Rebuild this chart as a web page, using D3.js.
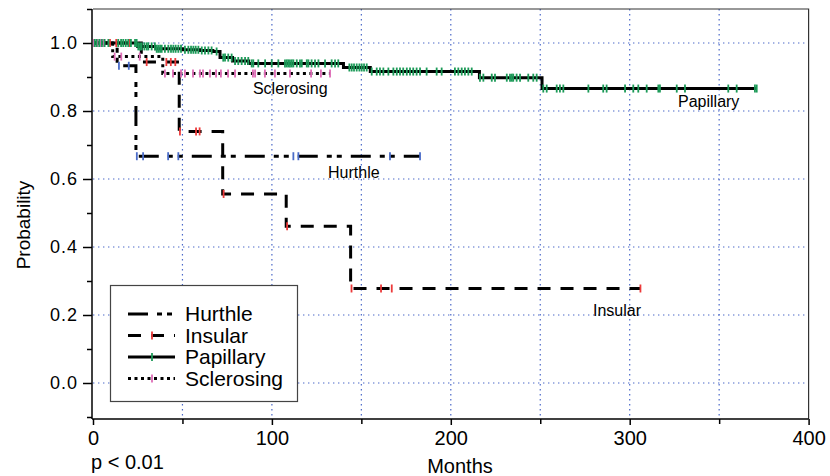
<!DOCTYPE html>
<meta charset="utf-8">
<style>
body {
  margin: 0;
  background: #fff;
  font-family: "Liberation Sans", Arial, sans-serif;
}

.grid line {
  stroke: #4a68c8;
  stroke-width: 1.2px;
  stroke-dasharray: 1.4,3.6;
}

.axis path, .axis line {
  stroke: #000;
  stroke-width: 1.5px;
}

.axis text {
  fill: #000;
}

.curve {
  fill: none;
  stroke: #000;
  stroke-width: 3px;
}

.hurthle { stroke-dasharray: 20,9,5,5,5,9; }
.insular { stroke-dasharray: 13,10; }
.sclerosing { stroke-dasharray: 3,3.5; }

.censor {
  stroke-width: 1.8px;
}

.label {
  font-size: 16px;
}
</style>
<body>
<script src="https://d3js.org/d3.v7.min.js"></script>
<script>

var width = 830,
    height = 476;

// Kaplan-Meier steps (months, survival) and censored times
var hurthleTimes = [0, 13.5, 24],
    hurthleSurv = [1, 0.933, 0.667],
    hurthleCensor = [14.5, 20, 24.5, 28, 42, 47.7, 112, 114.8, 166, 182.8];

var insularTimes = [0, 27, 48.2, 72.5, 108, 144],
    insularSurv = [1, 0.944, 0.74, 0.556, 0.461, 0.278],
    insularCensor = [9.5, 13, 20.5, 30, 41, 43.5, 46, 48.6, 57.6, 59.6, 73, 108.5, 144.5, 161, 167, 306];

var papillaryTimes = [0, 25, 35, 50, 60, 67, 71, 78, 87, 140, 155, 216, 251],
    papillarySurv = [1, 0.99, 0.983, 0.98, 0.978, 0.975, 0.957, 0.947, 0.94, 0.928, 0.916, 0.898, 0.866],
    papillaryCensor = [1, 2, 3.5, 5, 6.5, 8.6, 14.1, 15.7, 16.9, 18.3, 19.7, 21.2, 23.5, 24.4, 25.3, 26.3,
      27.2, 28.7, 30.0, 30.9, 32.8, 34.6, 35.6, 36.5, 37.5, 38.4, 40.2, 42.1, 43.6, 44.9, 46.2, 47.7,
      49.2, 51.4, 53.3, 54.8, 56.1, 57.4, 58.9, 60.8, 62.6, 64.5, 66.3, 69.1, 72.8, 73.8, 75.6, 77.5,
      79.4, 81.2, 83.1, 85.0, 86.8, 88.7, 89.6, 92.4, 96.2, 99.9, 103.6, 107.3, 108.3, 109.2, 110.1,
      111.1, 112.0, 113.9, 115.7, 116.7, 119.5, 120.4, 122.2, 124.1, 126.0, 129.7, 133.4, 135.3, 137.1,
      143.3, 144.6, 145.9, 147.4, 148.9, 150.2, 151.5, 153.0, 155.8, 158.6, 160.4, 162.3, 165.1, 167.9,
      169.8, 171.6, 173.4, 175.4, 177.2, 179.0, 180.9, 182.8, 186.5, 192.1, 194.9, 202.3, 204.2, 206.1,
      207.9, 209.8, 211.7, 216.3, 218.2, 222.9, 224.7, 231.3, 233.1, 234.1, 234.9, 236.8, 238.7, 243.3,
      246.1, 248.0, 251.7, 253.6, 259.2, 261.0, 262.9, 276.9, 285.2, 287.1, 297.4, 302.0, 304.8, 309.5,
      316.0, 316.9, 326.3, 330.9, 355.1, 359.8, 370.0, 371];

var sclerosingTimes = [0, 11, 39],
    sclerosingSurv = [1, 0.96, 0.91],
    sclerosingCensor = [0.5, 2.5, 4, 6, 12.1, 15.8, 26.1, 40.2, 44.7, 49.2, 51.4, 55.9, 59.8, 61.5, 65.4,
      68.8, 71.5, 75.5, 79.4, 89.4, 90.6, 96.1, 101.7, 110.1, 121.9, 127.4, 132.5];

var xMajor = [0, 100, 200, 300, 400],
    xMinor = [50, 150, 250, 350],
    yMajor = [0, 0.2, 0.4, 0.6, 0.8, 1.0],
    yMinor = [-0.1, 0.1, 0.3, 0.5, 0.7, 0.9, 1.1];

var series = [
  {name: "Sclerosing", cls: "sclerosing", color: "#de6cb6", times: sclerosingTimes, surv: sclerosingSurv, censor: sclerosingCensor, label: [89.4, 0.85]},
  {name: "Hurthle", cls: "hurthle", color: "#4a6cc8", times: hurthleTimes, surv: hurthleSurv, censor: hurthleCensor, label: [131.4, 0.603]},
  {name: "Insular", cls: "insular", color: "#ec3a3a", times: insularTimes, surv: insularSurv, censor: insularCensor, label: [279.5, 0.197]},
  {name: "Papillary", cls: "papillary", color: "#1c9a58", times: papillaryTimes, surv: papillarySurv, censor: papillaryCensor, label: [327, 0.812]}
];
var legendOrder = ["Hurthle", "Insular", "Papillary", "Sclerosing"];

var x = d3.scaleLinear().domain([0, 400]).range([93, 808.6]),
    y = d3.scaleLinear().domain([-0.1, 1.1]).range([417, 9]);

var svg = d3.select("body").append("svg")
    .attr("width", width)
    .attr("height", height);

// grid
var grid = svg.append("g").attr("class", "grid");
grid.selectAll(".gx")
    .data(d3.range(50, 400, 50))
  .enter().append("line")
    .attr("x1", x).attr("x2", x)
    .attr("y1", y(1.1)).attr("y2", 419);
grid.selectAll(".gy")
    .data(yMajor)
  .enter().append("line")
    .attr("x1", x(0)).attr("x2", x(400))
    .attr("y1", y).attr("y2", y);

// frame top/right
svg.append("path")
    .attr("d", "M" + x(0) + "," + y(1.1) + "H" + x(400) + "V419")
    .attr("fill", "none")
    .attr("stroke", "#333")
    .attr("stroke-width", 1.2);

// axes
svg.append("g")
    .attr("class", "axis")
    .attr("transform", "translate(0,419)")
    .call(d3.axisBottom(x).tickValues(xMajor).tickSize(6).tickSizeOuter(0).tickPadding(6))
    .call(function(g) {
      g.selectAll("text").attr("font-size", 20).attr("font-family", "Liberation Sans, Arial, sans-serif");
      g.select(".domain").attr("d", "M" + (x(0) - 1) + ",0H" + x(400));
    });
svg.append("g")
    .attr("class", "axis")
    .attr("transform", "translate(0,419)")
    .call(d3.axisBottom(x).tickValues(xMinor).tickSize(5).tickFormat(""))
    .call(function(g) { g.select(".domain").remove(); });

svg.append("g")
    .attr("class", "axis")
    .attr("transform", "translate(" + (x(0) - 1) + ",0)")
    .call(d3.axisLeft(y).tickValues(yMajor).tickSize(9).tickSizeOuter(0).tickPadding(5).tickFormat(d3.format(".1f")))
    .call(function(g) {
      g.selectAll("text")
          .attr("font-size", 18)
          .attr("letter-spacing", 1)
          .attr("font-family", "Liberation Sans, Arial, sans-serif");
      g.select(".domain").attr("d", "M0," + y(1.1) + "V419");
    });
svg.append("g")
    .attr("class", "axis")
    .attr("transform", "translate(" + (x(0) - 1) + ",0)")
    .call(d3.axisLeft(y).tickValues(yMinor).tickSize(5).tickFormat(""))
    .call(function(g) { g.select(".domain").remove(); });

// axis titles
svg.append("text")
    .attr("transform", "translate(30,225)rotate(-90)")
    .attr("text-anchor", "middle")
    .attr("font-size", 19)
    .text("Probability");
svg.append("text")
    .attr("x", 460).attr("y", 473)
    .attr("text-anchor", "middle")
    .attr("font-size", 20)
    .text("Months");
svg.append("text")
    .attr("x", 91).attr("y", 469)
    .attr("font-size", 20)
    .text("p < 0.01");

// curves
function survAt(d, t) {
  var i = d3.bisectRight(d.times, t) - 1;
  return d.surv[Math.max(i, 0)];
}

var line = d3.line()
    .x(function(p) { return x(p[0]); })
    .y(function(p) { return y(p[1]); })
    .curve(d3.curveStepAfter);

series.forEach(function(d) {
  var pts = d.times.map(function(t, i) { return [t, d.surv[i]]; });
  pts.push([d3.max(d.censor), d.surv[d.surv.length - 1]]);
  svg.append("path")
      .attr("class", "curve " + d.cls)
      .attr("d", line(pts));
});

series.forEach(function(d) {
  svg.append("g").selectAll("line")
      .data(d.censor)
    .enter().append("line")
      .attr("class", "censor")
      .attr("stroke", d.color)
      .attr("x1", x).attr("x2", x)
      .attr("y1", function(t) { return y(survAt(d, t)) - 4; })
      .attr("y2", function(t) { return y(survAt(d, t)) + 4; });
});

// in-plot labels
svg.selectAll(".label")
    .data(series)
  .enter().append("text")
    .attr("class", "label")
    .attr("x", function(d) { return x(d.label[0]); })
    .attr("y", function(d) { return y(d.label[1]); })
    .text(function(d) { return d.name; });

// legend
var legend = svg.append("g");
legend.append("rect")
    .attr("x", 110.5).attr("y", 285.5)
    .attr("width", 187).attr("height", 116)
    .attr("fill", "#fff")
    .attr("stroke", "#444")
    .attr("stroke-width", 1.2);

var byName = {};
series.forEach(function(d) { byName[d.name] = d; });

legendOrder.forEach(function(name, i) {
  var d = byName[name],
      yy = 321 + i * 21.5;
  legend.append("line")
      .attr("class", "curve " + d.cls)
      .attr("x1", 128).attr("x2", 175)
      .attr("y1", yy - 7).attr("y2", yy - 7);
  if (d.cls !== "hurthle") {
    legend.append("line")
        .attr("class", "censor")
        .attr("stroke", d.color)
        .attr("x1", 152).attr("x2", 152)
        .attr("y1", yy - 11).attr("y2", yy - 3);
  }
  legend.append("text")
      .attr("x", 185).attr("y", yy)
      .attr("font-size", 21)
      .text(name);
});

</script>
